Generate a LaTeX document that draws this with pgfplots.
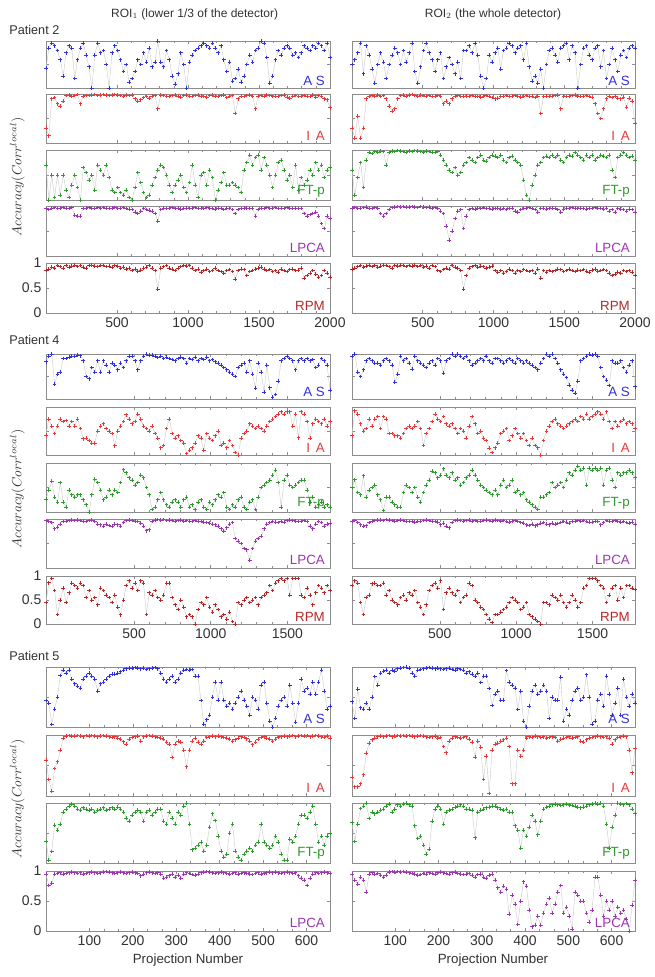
\documentclass[border=0pt]{standalone}
\usepackage{fontspec}
\setmainfont{Liberation Sans}
\usepackage{pgfplots}
\usepackage{pgfplotstable}
\pgfplotsset{compat=1.18}
\definecolor{cAS}{RGB}{50,50,220}
\definecolor{cIA}{RGB}{235,55,55}
\definecolor{cFT}{RGB}{45,155,45}
\definecolor{cLP}{RGB}{155,55,175}
\definecolor{cRP}{RGB}{180,40,40}
\definecolor{lgray}{RGB}{200,200,200}
\definecolor{axg}{RGB}{140,140,140}
\definecolor{txt}{RGB}{50,50,50}
\newcommand{\rd}[1]{\pgfplotstableread[row sep=\\, header=false]{#1}\dat}
\newcommand{\ser}[3]{%
\addplot[draw=lgray, line width=0.3pt, line join=round, no marks] table[x expr={#2+\coordindex*#3}, y index=0] {\dat};
\addplot[only marks, mark=+, mark size=1.4pt, draw=#1, line width=0.6pt] table[x expr={#2+\coordindex*#3}, y index=0] {\dat};}
\tikzset{lab/.style={anchor=south east, font=\fontsize{10}{12}\selectfont, inner sep=0.5pt}}
\pgfplotsset{
 panel/.style={scale only axis, anchor=north west, ymin=0, ymax=100, ytick={0,50,100}, yticklabels={}, xticklabels={}, tick align=inside, tick pos=both, axis line style={draw=axg, line width=0.5pt}, every tick/.append style={draw=axg, line width=0.4pt}, major tick length=2.5pt, minor tick length=1.5pt, tick label style={font=\fontsize{10.5}{11}\selectfont, text=txt}, /pgf/number format/assume math mode=true},
 L/.style={at={(34.5pt,-#1)}, width=213pt},
 R/.style={at={(264pt,-#1)}, width=212.25pt},
 xP2/.style={xmin=0, xmax=2000, xtick={500,1000,1500,2000}, minor x tick num=4},
 xP4/.style={xmin=-75, xmax=1778, xtick={500,1000,1500}, minor x tick num=4},
 xP5/.style={xmin=0, xmax=654, xtick={100,200,300,400,500,600}, minor x tick num=2},
 bP2/.style={xticklabels={500,1000,1500,2000}, yticklabels={0,0.5,1}},
 bP4/.style={xticklabels={500,1000,1500}, yticklabels={0,0.5,1}},
 bP5/.style={xticklabels={100,200,300,400,500,600}, yticklabels={0,0.5,1}},
}
\begin{document}
\begin{tikzpicture}
\path[use as bounding box] (0,0) rectangle (490.5pt,-732.75pt);
\node[text=txt, font=\fontsize{9}{11}\selectfont] at (146pt,-10.5pt) {ROI$_1$ (lower 1/3 of the detector)};
\node[text=txt, font=\fontsize{9}{11}\selectfont] at (369.75pt,-10.5pt) {ROI$_2$ (the whole detector)};
\node[text=txt, anchor=west, font=\fontsize{9.5}{11}\selectfont] at (3.5pt,-22.5pt) {Patient 2};
\node[text=txt, anchor=west, font=\fontsize{9.5}{11}\selectfont] at (3.5pt,-255pt) {Patient 4};
\node[text=txt, anchor=west, font=\fontsize{9.5}{11}\selectfont] at (3.5pt,-492pt) {Patient 5};
\node[text=txt, rotate=90, font=\fontsize{10}{12}\selectfont] at (13pt,-132.75pt) {$Accuracy(Corr^{local})$};
\node[text=txt, rotate=90, font=\fontsize{10}{12}\selectfont] at (13pt,-366.75pt) {$Accuracy(Corr^{local})$};
\node[text=txt, rotate=90, font=\fontsize{10}{12}\selectfont] at (13pt,-599.25pt) {$Accuracy(Corr^{local})$};
\node[text=txt, font=\fontsize{10}{12}\selectfont] at (141pt,-720pt) {Projection Number};
\node[text=txt, font=\fontsize{10}{12}\selectfont] at (369.75pt,-720pt) {Projection Number};

% ===== Patient 2, left =====
\rd{42\\85\\95\\90\\80\\60\\25\\75\\90\\85\\
20\\60\\85\\95\\70\\45\\0\\70\\95\\75\\
80\\50\\0\\75\\90\\80\\60\\35\\50\\12\\
20\\35\\60\\50\\75\\55\\85\\45\\55\\100\\
55\\45\\80\\60\\25\\8\\30\\75\\50\\0\\
55\\70\\80\\85\\90\\95\\90\\85\\95\\85\\
75\\90\\60\\35\\55\\15\\20\\40\\12\\25\\
50\\70\\55\\80\\85\\100\\95\\65\\10\\25\\
60\\80\\70\\85\\90\\85\\70\\75\\65\\75\\
90\\85\\80\\90\\85\\95\\90\\80\\95\\65\\}
\begin{axis}[panel, L=30.75pt, height=35.25pt, xP2]
\ser{cAS}{0}{20.202}
\node[lab, text=cAS] at (rel axis cs:0.985,0.04) {A S};
\end{axis}
\rd{30\\15\\90\\93\\80\\75\\85\\97\\98\\96\\
97\\99\\80\\96\\97\\97\\98\\99\\97\\98\\
99\\98\\97\\98\\99\\98\\97\\96\\98\\97\\
98\\90\\85\\88\\93\\95\\92\\96\\97\\70\\
98\\97\\96\\95\\97\\98\\96\\94\\97\\98\\
96\\95\\97\\98\\96\\95\\94\\97\\98\\96\\
95\\97\\98\\93\\96\\97\\60\\90\\96\\95\\
97\\98\\96\\70\\96\\97\\96\\98\\97\\95\\
96\\95\\97\\98\\94\\92\\96\\97\\95\\96\\
97\\96\\95\\98\\94\\97\\96\\90\\88\\72\\}
\begin{axis}[panel, L=70.5pt, height=36.75pt, xP2]
\ser{cIA}{0}{20.202}
\node[lab, text=cIA] at (rel axis cs:0.985,0.04) {I\, A};
\end{axis}
\rd{70\\0\\50\\5\\50\\10\\50\\20\\5\\30\\
50\\25\\0\\65\\55\\40\\50\\20\\70\\60\\
50\\70\\45\\20\\15\\25\\15\\10\\20\\5\\
0\\25\\55\\35\\15\\5\\10\\30\\45\\60\\
70\\65\\50\\30\\15\\30\\40\\50\\25\\15\\
35\\70\\30\\5\\50\\55\\30\\60\\45\\0\\
20\\35\\55\\30\\30\\35\\30\\25\\15\\60\\
75\\90\\70\\85\\90\\60\\85\\70\\50\\25\\
50\\75\\80\\60\\40\\50\\25\\70\\20\\45\\
30\\40\\60\\50\\75\\60\\70\\45\\60\\65\\}
\begin{axis}[panel, L=112.5pt, height=37.5pt, xP2]
\ser{cFT}{0}{20.202}
\node[lab, text=cFT] at (rel axis cs:0.985,0.04) {FT-p};
\end{axis}
\rd{95\\93\\96\\97\\95\\96\\97\\96\\95\\97\\
82\\80\\80\\95\\96\\97\\96\\95\\97\\96\\
97\\96\\95\\96\\97\\95\\96\\97\\95\\94\\
93\\88\\85\\90\\95\\93\\92\\90\\85\\70\\
93\\96\\95\\96\\97\\95\\96\\94\\95\\96\\
95\\96\\97\\95\\96\\95\\97\\96\\95\\94\\
96\\95\\93\\96\\95\\93\\85\\93\\95\\96\\
96\\95\\95\\80\\93\\96\\95\\97\\95\\96\\
97\\95\\96\\95\\97\\96\\95\\96\\95\\96\\
85\\80\\83\\85\\88\\80\\65\\55\\80\\75\\}
\begin{axis}[panel, L=154.5pt, height=37.5pt, xP2]
\ser{cLP}{0}{20.202}
\node[lab, text=cLP] at (rel axis cs:0.985,0.04) {LPCA};
\end{axis}
\rd{85\\88\\92\\90\\95\\93\\90\\95\\92\\94\\
96\\93\\95\\92\\90\\95\\96\\94\\93\\95\\
95\\93\\94\\92\\95\\93\\90\\92\\88\\90\\
85\\88\\84\\86\\90\\92\\95\\90\\85\\48\\
90\\93\\95\\90\\88\\85\\90\\93\\95\\94\\
95\\90\\85\\88\\82\\85\\88\\83\\85\\90\\
85\\83\\80\\85\\87\\83\\68\\85\\88\\87\\
75\\83\\85\\88\\90\\92\\88\\85\\87\\83\\
85\\82\\88\\85\\83\\87\\88\\85\\86\\90\\
70\\75\\80\\85\\78\\72\\75\\85\\80\\72\\}
\begin{axis}[panel, L=197.25pt, height=37.5pt, xP2, bP2]
\ser{cRP}{0}{20.202}
\node[lab, text=cRP] at (rel axis cs:0.985,0.04) {RPM};
\end{axis}

% ===== Patient 2, right =====
\rd{50\\60\\75\\95\\30\\90\\70\\40\\10\\50\\
75\\55\\20\\50\\70\\85\\75\\50\\80\\55\\
75\\95\\35\\10\\45\\80\\95\\75\\60\\35\\
60\\75\\20\\45\\65\\50\\30\\55\\20\\80\\
80\\90\\75\\95\\70\\25\\0\\20\\70\\55\\
75\\85\\40\\80\\85\\95\\90\\75\\85\\90\\
60\\95\\45\\15\\25\\10\\40\\0\\50\\80\\
85\\70\\55\\85\\90\\95\\60\\90\\75\\0\\
50\\85\\90\\70\\60\\85\\90\\45\\80\\20\\
50\\85\\60\\35\\70\\80\\65\\85\\90\\85\\}
\begin{axis}[panel, R=30.75pt, height=35.25pt, xP2]
\ser{cAS}{0}{20.202}
\node[lab, text=cAS] at (rel axis cs:0.985,0.04) {A S};
\end{axis}
\rd{30\\10\\55\\10\\30\\90\\95\\97\\96\\98\\
95\\97\\90\\75\\65\\70\\90\\97\\98\\96\\
98\\99\\97\\96\\98\\97\\96\\97\\95\\96\\
97\\96\\80\\85\\80\\90\\96\\97\\95\\96\\
96\\95\\97\\96\\95\\94\\96\\97\\95\\93\\
90\\92\\95\\96\\97\\95\\96\\97\\95\\94\\
96\\97\\95\\96\\93\\96\\60\\95\\96\\95\\
96\\97\\98\\70\\96\\95\\96\\97\\98\\96\\
95\\96\\97\\95\\93\\80\\60\\50\\70\\90\\
95\\93\\96\\92\\90\\94\\73\\92\\85\\40\\}
\begin{axis}[panel, R=70.5pt, height=36.75pt, xP2]
\ser{cIA}{0}{20.202}
\node[lab, text=cIA] at (rel axis cs:0.985,0.04) {I\, A};
\end{axis}
\rd{60\\10\\45\\75\\25\\80\\95\\93\\97\\96\\
98\\97\\70\\95\\98\\97\\99\\98\\97\\96\\
98\\97\\99\\98\\97\\96\\98\\97\\96\\95\\
97\\90\\80\\70\\60\\55\\65\\50\\55\\70\\
75\\85\\80\\75\\85\\90\\80\\78\\85\\90\\
88\\85\\90\\80\\75\\85\\88\\80\\75\\70\\
40\\10\\0\\30\\50\\70\\75\\85\\88\\85\\
90\\85\\90\\80\\75\\85\\90\\88\\95\\90\\
85\\80\\90\\85\\90\\80\\85\\90\\88\\85\\
90\\60\\45\\85\\90\\95\\90\\85\\88\\80\\}
\begin{axis}[panel, R=112.5pt, height=37.5pt, xP2]
\ser{cFT}{0}{20.202}
\node[lab, text=cFT] at (rel axis cs:0.985,0.04) {FT-p};
\end{axis}
\rd{96\\97\\95\\96\\97\\98\\96\\95\\97\\96\\
85\\80\\85\\93\\97\\98\\99\\98\\99\\98\\
98\\99\\98\\97\\99\\98\\97\\98\\96\\97\\
95\\90\\85\\60\\32\\50\\75\\90\\93\\55\\
80\\93\\95\\94\\96\\95\\97\\95\\96\\94\\
95\\96\\94\\95\\93\\95\\96\\90\\88\\93\\
95\\96\\97\\95\\93\\88\\95\\96\\94\\95\\
96\\95\\93\\88\\94\\96\\95\\97\\96\\95\\
96\\95\\94\\96\\95\\97\\96\\95\\94\\96\\
90\\93\\88\\95\\94\\93\\90\\94\\93\\88\\}
\begin{axis}[panel, R=154.5pt, height=37.5pt, xP2]
\ser{cLP}{0}{20.202}
\node[lab, text=cLP] at (rel axis cs:0.985,0.04) {LPCA};
\end{axis}
\rd{88\\90\\93\\95\\92\\94\\96\\93\\95\\92\\
94\\96\\95\\93\\90\\95\\94\\96\\95\\93\\
95\\94\\96\\93\\95\\92\\94\\90\\95\\93\\
85\\83\\87\\90\\88\\95\\92\\90\\85\\48\\
75\\90\\93\\95\\92\\94\\93\\90\\92\\94\\
85\\82\\85\\80\\83\\88\\85\\80\\85\\83\\
87\\85\\83\\85\\80\\88\\70\\85\\82\\85\\
83\\85\\88\\87\\83\\85\\88\\85\\83\\86\\
85\\87\\84\\82\\86\\88\\84\\85\\87\\85\\
80\\75\\78\\82\\80\\85\\83\\85\\82\\75\\}
\begin{axis}[panel, R=197.25pt, height=37.5pt, xP2, bP2, yticklabels={}]
\ser{cRP}{0}{20.202}
\node[lab, text=cRP] at (rel axis cs:0.985,0.04) {RPM};
\end{axis}

% ===== Patient 4, left =====
\rd{83\\95\\100\\33\\55\\60\\90\\90\\93\\95\\
95\\97\\96\\85\\50\\45\\70\\60\\85\\60\\
85\\75\\60\\80\\75\\65\\80\\70\\85\\95\\
95\\85\\65\\85\\95\\100\\97\\98\\95\\92\\
95\\90\\93\\90\\88\\85\\90\\93\\90\\80\\
90\\88\\92\\85\\90\\88\\93\\85\\88\\83\\
80\\75\\70\\65\\60\\55\\50\\70\\75\\80\\
60\\85\\55\\24\\80\\60\\15\\75\\25\\4\\
10\\40\\85\\90\\95\\90\\85\\65\\85\\90\\
85\\90\\85\\88\\70\\75\\90\\85\\75\\20\\}
\begin{axis}[panel, L=265.5pt, height=33.75pt, xP4]
\ser{cAS}{-75}{18.717}
\node[lab, text=cAS] at (rel axis cs:0.985,0.04) {A S};
\end{axis}
\rd{41\\75\\60\\45\\60\\75\\70\\72\\60\\70\\
60\\75\\55\\34\\35\\30\\25\\25\\50\\60\\
65\\55\\50\\45\\19\\50\\60\\70\\84\\75\\
65\\70\\85\\75\\60\\55\\50\\60\\45\\35\\
15\\20\\55\\75\\45\\35\\40\\30\\25\\3\\
10\\15\\25\\40\\35\\10\\45\\35\\30\\40\\
50\\20\\25\\15\\30\\20\\5\\0\\35\\45\\
50\\65\\60\\55\\60\\55\\50\\60\\70\\75\\
80\\85\\90\\85\\90\\90\\60\\85\\36\\90\\
85\\70\\35\\65\\75\\70\\65\\75\\60\\70\\}
\begin{axis}[panel, L=305.25pt, height=36pt, xP4]
\ser{cIA}{-75}{18.717}
\node[lab, text=cIA] at (rel axis cs:0.985,0.04) {I\, A};
\end{axis}
\rd{26\\45\\63\\30\\20\\60\\20\\10\\45\\35\\
30\\35\\35\\25\\15\\0\\35\\67\\60\\45\\
25\\30\\45\\35\\45\\40\\60\\86\\80\\70\\
65\\55\\60\\75\\70\\50\\35\\5\\10\\25\\
40\\25\\15\\10\\20\\25\\20\\10\\25\\30\\
10\\15\\5\\20\\25\\10\\5\\20\\15\\25\\
35\\30\\40\\10\\5\\15\\10\\25\\30\\10\\
5\\20\\25\\5\\30\\50\\55\\60\\65\\75\\
85\\60\\10\\65\\75\\55\\50\\55\\60\\65\\
65\\45\\20\\30\\10\\15\\20\\10\\15\\10\\}
\begin{axis}[panel, L=347.25pt, height=36.75pt, xP4]
\ser{cFT}{-75}{18.717}
\node[lab, text=cFT] at (rel axis cs:0.985,0.04) {FT-p};
\end{axis}
\rd{97\\95\\93\\80\\83\\90\\95\\96\\97\\98\\
97\\98\\97\\96\\95\\97\\98\\95\\90\\88\\
85\\90\\87\\85\\90\\88\\85\\93\\97\\98\\
97\\96\\95\\92\\85\\76\\78\\95\\98\\99\\
98\\99\\97\\98\\97\\96\\97\\98\\96\\97\\
96\\95\\97\\96\\95\\94\\93\\92\\90\\88\\
85\\80\\75\\82\\90\\93\\60\\55\\50\\40\\
37\\16\\40\\55\\60\\65\\80\\90\\93\\95\\
94\\93\\95\\94\\97\\98\\97\\96\\95\\96\\
97\\95\\85\\80\\90\\95\\93\\85\\90\\92\\}
\begin{axis}[panel, L=389.25pt, height=36.75pt, xP4]
\ser{cLP}{-75}{18.717}
\node[lab, text=cLP] at (rel axis cs:0.985,0.04) {LPCA};
\end{axis}
\rd{45\\86\\95\\70\\20\\50\\75\\45\\65\\85\\
80\\75\\85\\80\\55\\70\\50\\55\\40\\75\\
70\\60\\55\\45\\60\\35\\19\\50\\80\\90\\
75\\85\\70\\90\\85\\20\\65\\60\\70\\55\\
50\\60\\85\\85\\55\\40\\30\\50\\35\\15\\
20\\15\\0\\30\\45\\40\\55\\35\\25\\40\\
30\\15\\20\\10\\25\\5\\0\\45\\40\\50\\
55\\45\\50\\55\\40\\55\\60\\65\\80\\70\\
85\\90\\95\\90\\95\\60\\95\\95\\95\\60\\
55\\75\\60\\40\\65\\80\\75\\65\\80\\70\\}
\begin{axis}[panel, L=432pt, height=36pt, xP4, bP4]
\ser{cRP}{-75}{18.717}
\node[lab, text=cRP] at (rel axis cs:0.985,0.04) {RPM};
\end{axis}

% ===== Patient 4, right =====
\rd{95\\100\\60\\50\\65\\85\\90\\85\\80\\80\\
75\\85\\90\\85\\75\\38\\55\\95\\85\\90\\
80\\66\\95\\85\\80\\75\\70\\80\\85\\75\\
90\\85\\57\\85\\90\\100\\95\\100\\95\\90\\
95\\85\\75\\80\\85\\90\\85\\95\\85\\80\\
90\\90\\85\\80\\85\\90\\85\\80\\90\\85\\
80\\85\\80\\75\\70\\65\\80\\90\\100\\95\\
100\\90\\80\\65\\55\\48\\31\\20\\13\\40\\
85\\90\\95\\100\\98\\100\\95\\70\\50\\42\\
30\\85\\80\\80\\85\\70\\60\\75\\85\\27\\}
\begin{axis}[panel, R=265.5pt, height=33.75pt, xP4]
\ser{cAS}{-75}{18.717}
\node[lab, text=cAS] at (rel axis cs:0.985,0.04) {A S};
\end{axis}
\rd{40\\92\\85\\65\\50\\55\\75\\60\\75\\80\\
55\\80\\75\\45\\45\\40\\40\\35\\45\\55\\
60\\55\\60\\70\\55\\20\\45\\55\\70\\85\\
75\\70\\80\\65\\60\\65\\55\\45\\55\\50\\
35\\60\\80\\65\\45\\50\\35\\30\\14\\5\\
15\\25\\45\\50\\55\\30\\40\\55\\45\\35\\
45\\30\\20\\35\\20\\15\\0\\30\\50\\60\\
70\\75\\65\\60\\55\\60\\65\\70\\75\\70\\
80\\75\\85\\75\\80\\85\\90\\85\\75\\90\\
70\\55\\70\\60\\70\\75\\65\\70\\65\\55\\}
\begin{axis}[panel, R=305.25pt, height=36pt, xP4]
\ser{cIA}{-75}{18.717}
\node[lab, text=cIA] at (rel axis cs:0.985,0.04) {I\, A};
\end{axis}
\rd{50\\66\\40\\35\\74\\30\\45\\50\\55\\35\\
25\\3\\30\\30\\20\\15\\10\\10\\40\\55\\
50\\40\\50\\30\\20\\40\\55\\65\\83\\80\\
70\\75\\88\\75\\70\\80\\65\\70\\55\\60\\
70\\75\\85\\75\\65\\55\\50\\45\\40\\35\\
45\\35\\55\\65\\50\\55\\65\\40\\45\\35\\
40\\25\\20\\15\\10\\5\\30\\30\\35\\40\\
60\\50\\55\\60\\50\\65\\80\\75\\85\\93\\
85\\90\\55\\90\\85\\90\\85\\90\\55\\85\\
90\\65\\50\\80\\75\\80\\80\\85\\80\\70\\}
\begin{axis}[panel, R=347.25pt, height=36.75pt, xP4]
\ser{cFT}{-75}{18.717}
\node[lab, text=cFT] at (rel axis cs:0.985,0.04) {FT-p};
\end{axis}
\rd{95\\97\\93\\88\\85\\86\\93\\96\\97\\98\\
98\\97\\99\\98\\97\\96\\97\\98\\97\\96\\
95\\96\\94\\95\\96\\97\\98\\97\\96\\95\\
94\\88\\92\\85\\82\\93\\97\\98\\97\\96\\
97\\98\\96\\97\\95\\96\\97\\98\\97\\96\\
98\\97\\96\\97\\95\\94\\96\\97\\95\\93\\
92\\88\\87\\90\\86\\88\\92\\93\\90\\88\\
92\\90\\91\\93\\95\\94\\92\\95\\96\\97\\
96\\97\\95\\94\\93\\96\\95\\88\\93\\97\\
96\\95\\97\\96\\94\\95\\93\\92\\94\\90\\}
\begin{axis}[panel, R=389.25pt, height=36.75pt, xP4]
\ser{cLP}{-75}{18.717}
\node[lab, text=cLP] at (rel axis cs:0.985,0.04) {LPCA};
\end{axis}
\rd{80\\90\\85\\45\\20\\55\\60\\84\\85\\80\\
80\\85\\60\\70\\50\\45\\40\\55\\60\\50\\
65\\60\\70\\45\\35\\20\\40\\70\\80\\85\\
75\\90\\30\\65\\75\\65\\60\\70\\45\\55\\
60\\85\\80\\50\\45\\35\\30\\20\\10\\3\\
20\\20\\25\\30\\35\\45\\55\\50\\45\\30\\
35\\45\\20\\15\\10\\5\\0\\45\\45\\40\\
60\\55\\50\\60\\45\\35\\45\\60\\50\\35\\
45\\75\\80\\95\\95\\95\\90\\80\\75\\45\\
60\\75\\80\\50\\75\\55\\80\\80\\75\\72\\}
\begin{axis}[panel, R=432pt, height=36pt, xP4, bP4, yticklabels={}]
\ser{cRP}{-75}{18.717}
\node[lab, text=cRP] at (rel axis cs:0.985,0.04) {RPM};
\end{axis}

% ===== Patient 5, left =====
\rd{44\\40\\4\\30\\50\\86\\95\\90\\95\\80\\
72\\68\\65\\80\\85\\90\\85\\80\\60\\72\\
75\\80\\85\\88\\88\\90\\92\\95\\97\\98\\
98\\99\\98\\97\\98\\96\\97\\98\\99\\97\\
90\\80\\75\\80\\85\\75\\80\\90\\95\\96\\
95\\96\\85\\85\\44\\5\\12\\20\\50\\75\\
45\\75\\45\\35\\40\\30\\40\\50\\60\\45\\
35\\20\\50\\45\\30\\70\\75\\40\\10\\0\\
15\\35\\45\\50\\35\\70\\40\\8\\40\\80\\
60\\65\\55\\75\\55\\75\\95\\60\\30\\35\\}
\begin{axis}[panel, L=500.25pt, height=45pt, xP5]
\ser{cAS}{0}{6.606}
\node[lab, text=cAS] at (rel axis cs:0.985,0.04) {A S};
\end{axis}
\rd{59\\27\\8\\45\\56\\75\\95\\98\\99\\98\\
98\\99\\98\\97\\99\\98\\99\\98\\97\\98\\
99\\98\\97\\96\\97\\95\\93\\89\\85\\93\\
96\\97\\98\\90\\97\\98\\99\\98\\97\\96\\
95\\93\\88\\85\\63\\85\\90\\88\\75\\48\\
75\\90\\95\\88\\85\\90\\96\\97\\98\\97\\
98\\97\\96\\95\\93\\90\\92\\95\\97\\96\\
94\\90\\84\\88\\93\\96\\97\\95\\93\\90\\
93\\96\\97\\98\\97\\98\\99\\97\\98\\99\\
98\\99\\97\\98\\99\\98\\97\\96\\98\\95\\}
\begin{axis}[panel, L=551.25pt, height=45.75pt, xP5]
\ser{cIA}{0}{6.606}
\node[lab, text=cIA] at (rel axis cs:0.985,0.04) {I\, A};
\end{axis}
\rd{36\\5\\19\\63\\55\\65\\85\\90\\95\\98\\
95\\90\\88\\92\\90\\88\\90\\85\\88\\90\\
92\\88\\90\\92\\90\\93\\90\\85\\75\\70\\
80\\85\\88\\85\\70\\85\\88\\80\\85\\90\\
90\\70\\65\\85\\75\\65\\85\\80\\95\\100\\
65\\22\\25\\30\\35\\20\\30\\60\\82\\71\\
45\\20\\10\\15\\50\\65\\20\\10\\5\\15\\
20\\25\\20\\30\\35\\65\\35\\30\\25\\30\\
45\\35\\15\\5\\5\\40\\35\\45\\65\\80\\
80\\75\\85\\95\\65\\35\\45\\30\\45\\50\\}
\begin{axis}[panel, L=602.25pt, height=45pt, xP5]
\ser{cFT}{0}{6.606}
\node[lab, text=cFT] at (rel axis cs:0.985,0.04) {FT-p};
\end{axis}
\rd{95\\76\\80\\95\\96\\97\\95\\96\\97\\98\\
97\\96\\97\\95\\96\\97\\98\\97\\96\\97\\
98\\99\\98\\97\\96\\97\\98\\97\\96\\97\\
98\\97\\96\\92\\95\\97\\98\\97\\96\\97\\
95\\88\\90\\92\\95\\90\\93\\88\\95\\97\\
96\\94\\93\\95\\97\\98\\99\\98\\97\\96\\
97\\98\\97\\96\\95\\96\\97\\95\\96\\97\\
96\\95\\94\\96\\97\\95\\96\\97\\98\\97\\
98\\97\\96\\97\\98\\97\\96\\97\\92\\88\\
85\\76\\88\\95\\97\\96\\97\\98\\97\\96\\}
\begin{axis}[panel, L=653.25pt, height=45pt, xP5, bP5]
\ser{cLP}{0}{6.606}
\node[lab, text=cLP] at (rel axis cs:0.985,0.04) {LPCA};
\end{axis}

% ===== Patient 5, right =====
\rd{42\\14\\63\\32\\30\\40\\30\\50\\84\\70\\
90\\93\\95\\90\\95\\93\\97\\98\\99\\100\\
98\\90\\85\\95\\96\\97\\98\\99\\98\\97\\
98\\97\\96\\97\\98\\96\\95\\97\\96\\95\\
90\\92\\88\\85\\90\\74\\85\\85\\64\\36\\
55\\60\\45\\45\\94\\75\\70\\65\\29\\60\\
10\\0\\35\\60\\70\\55\\60\\70\\60\\14\\
50\\45\\45\\83\\10\\30\\20\\45\\60\\65\\
45\\50\\87\\50\\5\\10\\45\\55\\35\\85\\
55\\20\\40\\65\\20\\80\\50\\35\\55\\40\\}
\begin{axis}[panel, R=500.25pt, height=45pt, xP5]
\ser{cAS}{0}{6.606}
\node[lab, text=cAS] at (rel axis cs:0.985,0.04) {A S};
\end{axis}
\rd{31\\15\\15\\20\\35\\70\\87\\92\\95\\97\\
98\\97\\98\\99\\97\\98\\99\\98\\99\\98\\
99\\98\\97\\98\\99\\98\\97\\96\\97\\98\\
95\\96\\81\\71\\90\\95\\97\\96\\95\\96\\
97\\93\\88\\64\\90\\80\\27\\65\\4\\75\\
85\\87\\90\\92\\95\\81\\20\\20\\75\\65\\
75\\95\\97\\96\\98\\97\\96\\97\\95\\96\\
97\\96\\90\\93\\95\\96\\97\\95\\96\\97\\
90\\88\\92\\95\\96\\97\\98\\97\\96\\97\\
95\\85\\92\\96\\97\\98\\97\\75\\38\\78\\}
\begin{axis}[panel, R=551.25pt, height=45.75pt, xP5]
\ser{cIA}{0}{6.606}
\node[lab, text=cIA] at (rel axis cs:0.985,0.04) {I\, A};
\end{axis}
\rd{67\\36\\65\\91\\95\\100\\74\\85\\82\\85\\
88\\90\\95\\98\\85\\90\\97\\95\\98\\100\\
97\\95\\62\\41\\45\\30\\15\\23\\70\\90\\
95\\90\\65\\85\\88\\90\\93\\95\\97\\95\\
90\\90\\88\\42\\85\\88\\90\\92\\93\\95\\
95\\92\\90\\88\\90\\85\\85\\62\\55\\25\\
55\\45\\60\\80\\70\\47\\70\\90\\93\\95\\
97\\98\\97\\96\\97\\98\\97\\96\\95\\93\\
92\\93\\95\\97\\98\\100\\98\\100\\95\\65\\
25\\60\\80\\100\\98\\97\\99\\97\\90\\82\\}
\begin{axis}[panel, R=602.25pt, height=45pt, xP5]
\ser{cFT}{0}{6.606}
\node[lab, text=cFT] at (rel axis cs:0.985,0.04) {FT-p};
\end{axis}
\rd{95\\85\\78\\90\\85\\65\\95\\97\\95\\96\\
93\\90\\93\\98\\99\\98\\99\\98\\99\\98\\
97\\96\\95\\93\\94\\96\\95\\97\\96\\95\\
97\\98\\97\\96\\95\\97\\98\\96\\95\\94\\
95\\96\\93\\90\\94\\95\\90\\88\\93\\95\\
85\\72\\65\\75\\70\\28\\60\\45\\11\\50\\
82\\75\\35\\7\\10\\25\\10\\30\\45\\55\\
30\\45\\65\\76\\30\\40\\25\\3\\65\\60\\
50\\50\\30\\15\\35\\90\\90\\60\\25\\50\\
35\\50\\25\\40\\30\\35\\20\\0\\43\\85\\}
\begin{axis}[panel, R=653.25pt, height=45pt, xP5, bP5, yticklabels={}]
\ser{cLP}{0}{6.606}
\node[lab, text=cLP] at (rel axis cs:0.985,0.04) {LPCA};
\end{axis}
\end{tikzpicture}
\end{document}
